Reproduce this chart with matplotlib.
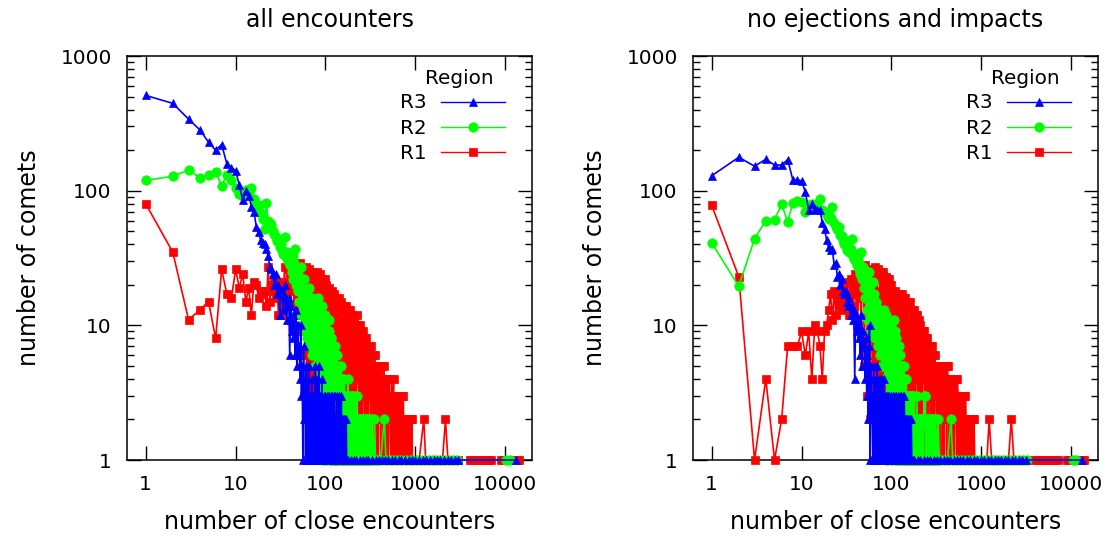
import matplotlib
matplotlib.use('Agg')
import matplotlib.pyplot as plt
from matplotlib.ticker import NullLocator, NullFormatter, LogLocator

# ---------------- data: (number of close encounters, number of comets) ----------------
left_r3 = [(1,510),(2,445),(3,340),(4,283),(5,229),(6,200),(7,220),(8,158),(9,148),(10,141),(11,110),(12,85),(13,100),(14,92),(15,76),(16,70),(17,54),(18,49),(19,43),(20,41),(21,40),(22,37),(23,33),(24,27),(25,26),(26,24),(27,20),(28,24),(29,17),(30,20),(31,12),(32,18),(33,17),(34,13),(35,20),(36,16),(37,11),(38,15),(39,16),
           (40,6),(41,14),(42,9),(43,12),(44,8),(45,11),(46,6),(47,13),(48,5),(49,10),(50,6),(51,7),(52,4),(53,10),(54,3),(55,5),(56,1),(57,7),(58,2),(59,4),(60,1),(61,5),(62,3),(63,1),(64,3),(65,5),(66,1),(67,3),(68,2),(69,1),(70,4),(71,2),(72,1),(73,3),(74,2),(75,1),(76,5),(77,3),(78,1),(79,4),(80,2),(81,1),
           (82,4),(83,1),(84,5),(85,2),(86,1),(87,3),(88,3),(89,1),(90,2),(91,4),(92,1),(93,2),(94,2),(95,1),(96,3),(97,2),(98,1),(99,3),(100,3),(101,1),(102,2),(103,3),(104,1),(105,2),(106,3),(107,1),(108,2),(109,3),(110,1),(111,2),(112,2),(113,1),(114,3),(115,2),(116,1),(117,3),(118,3),(119,1),(120,2),(121,1),(123,2),(124,3),(126,3),(127,1),(129,2),(130,1),(132,2),(133,3),(135,3),(136,1),(138,2),(139,1),(141,3),(142,2),(144,2),(145,1),(147,3),(148,1),(150,3),(152,1),(154,2),(156,1),(158,2),(160,1),(162,2),(164,1),(166,2),(168,1),(170,2),(172,1),
           (176,1),(190,1),(205,1),(220,1),(240,1),(260,1),(280,1),(300,1),(330,1),(360,1),(390,1),(420,1),(460,1),(500,1),(550,1),(600,1),(650,1),(700,1),(770,1),(840,1),(920,1),(1000,1),(1100,1),(1200,1),(1320,1),(1450,1),(1600,1),(1750,1),(1900,1),(2100,1),(2300,1),(2500,1),(2750,1),(3000,1),(13300,1)]

left_r2 = [(1,119),(2,128),(3,142),(4,125),(5,131),(6,137),(7,109),(8,131),(9,121),(10,105),(11,95),(12,91),(13,101),(14,99),(15,104),(16,86),(17,75),(18,78),(19,68),(20,62),(21,52),(22,81),(23,60),(24,58),(25,56),(26,50),(27,48),(28,45),(29,42),(30,44),(31,38),(32,40),(33,36),(34,34),(35,45),(36,32),(37,35),(38,30),(39,32),(40,28),(41,30),(42,25),(43,33),(44,22),(45,29),(46,37),(47,20),(48,26),(49,18),(50,24),(51,15),(52,21),(53,12),(54,27),(55,10),(56,19),(57,14),(58,22),(59,9),
           (60,17),(61,12),(62,8),(63,18),(64,10),(65,7),(66,19),(67,13),(68,9),(69,15),(70,6),(71,16),(72,11),(73,7),(74,14),(75,9),(76,5),(77,15),(78,10),(79,6),(80,13),(81,8),(82,4),(83,16),(84,11),(85,5),(86,14),(87,7),(88,3),(89,12),(90,9),(91,4),(92,14),(93,6),(94,1),(95,11),(96,8),(97,2),
           (98,12),(99,3),(100,5),(101,9),(102,1),(103,7),(104,11),(105,2),(106,7),(107,4),(108,2),(109,9),(110,11),(111,1),(112,4),(113,6),(114,1),(115,8),(116,8),(117,2),(118,5),(119,3),(120,1),(121,6),(122,7),(123,1),(124,3),(125,5),(126,1),(127,4),(128,7),(129,2),(130,4),(131,1),(132,5),(134,1),(135,6),(136,3),(138,2),(139,4),(141,5),(142,1),(144,3),(145,4),(147,1),(148,3),(150,5),(151,1),(153,2),(154,4),(156,4),(157,1),(159,3),(160,1),(162,4),(164,2),(166,2),(168,1),(170,3),(172,2),(174,1),(176,4),(178,3),(180,1),(182,2),(184,3),(186,1),(188,3),(190,1),(193,2),(195,3),(198,1),(200,2),(203,3),(205,1),(208,2),(210,1),(213,3),(216,1),(219,2),(222,3),(225,1),(228,2),(231,1),(234,2),(237,1),(240,2),(244,1),(247,2),(251,1),(254,2),(258,1),(261,2),(265,1),(268,2),(272,1),(276,2),(280,1),(284,2),(288,1),(292,2),(296,1),(300,2),(305,1),(310,2),(318,1),(325,2),(333,1),(340,1),(350,2),(360,1),(380,1),(410,1),(452,2),(470,1),
           (520,1),(570,1),(630,1),(700,1),(780,1),(860,1),(950,1),(1050,1),(1150,1),(1270,1),(1400,1),(1550,1),(1700,1),(1900,1),(2100,1),(2350,1),(2600,1),(2900,1),(10300,1),(11200,1)]

left_r1 = [(1,80),(2,35),(3,11),(4,13),(5,15),(6,8),(7,26),(8,17),(9,16),(10,26),(11,19),(12,24),(13,15),(14,19),(15,12),(16,21),(17,20),(18,16),(19,18),(20,17),(21,18),(22,14),(23,27),(24,15),(25,20),(26,18),(27,22),(28,16),(29,19),(30,12),(31,17),(32,12),(33,21),(34,16),(35,27),(36,14),(37,20),(38,26),(39,18),(40,24),(41,11),(42,22),(43,19),(44,25),(45,14),(46,21),(47,28),(48,17),(49,23),(50,12),(51,26),(52,29),(53,18),(54,22),(55,9),(56,25),(57,15),(58,21),(59,6),
           (60,27),(61,14),(62,1),(63,23),(64,19),(65,3),(66,26),(67,11),(68,1),(69,24),(70,17),(71,2),(72,25),(73,9),(74,1),
           (75,22),(76,8),(77,15),(78,1),(79,24),(80,12),(81,25),(82,3),(83,18),(84,1),(85,23),(86,10),(87,24),(88,2),(89,16),(90,1),(91,22),(92,13),(93,21),(94,1),(95,9),(96,20),(97,2),(98,17),(99,22),(100,5),
           (102,20),(104,1),(106,14),(108,19),(110,3),(112,17),(114,8),(116,1),(118,18),(120,12),(122,2),(124,17),(126,6),(128,1),(130,16),(132,11),(134,1),(136,15),(138,4),(140,16),(142,1),(144,13),(146,9),(148,2),(150,15),
           (153,7),(156,1),(159,14),(162,11),(165,2),(168,14),(171,5),(174,1),(177,13),(180,9),(183,1),(186,13),(189,3),(192,12),(195,1),(198,8),
           (202,12),(206,2),(210,11),(214,6),(218,1),(222,12),(226,4),(230,10),(234,1),(238,7),(242,10),(246,2),(250,9),(254,5),(258,1),(262,9),(266,3),(270,8),(274,1),(278,6),(282,8),(286,2),(290,7),(294,4),(298,1),
           (303,7),(308,3),(313,6),(318,1),(323,7),(328,4),(333,2),(338,6),(343,1),(348,5),(353,6),(358,2),(363,5),(368,1),(373,4),(378,5),(383,1),(388,5),(393,3),(398,2),
           (404,5),(410,1),(416,4),(422,5),(428,2),(434,4),(440,1),(446,5),(452,3),(458,1),(464,4),(470,2),(476,4),(482,1),(488,3),(494,4),(500,1),
           (508,4),(516,2),(524,3),(532,1),(540,4),(548,2),(556,1),(564,3),(572,4),(580,1),(588,3),(596,2),(604,1),(612,3),(620,3),(628,1),(636,2),(644,3),
           (654,1),(664,3),(674,2),(684,1),(694,3),(704,3),(714,1),(724,2),(734,3),(744,1),(754,2),(764,2),(774,1),(784,2),(794,1),
           (806,2),(818,1),(830,2),(842,2),(854,1),(866,2),(878,1),(890,2),(902,1),(914,2),(926,1),(940,1),
           (1000,1),(1100,1),(1240,2),(1300,1),(1500,1),(1750,1),(2000,1),(2160,2),(2300,1),(2600,1),(3000,1),(4000,1),(4200,1),(4450,1),(4700,1),(4950,1),(5250,1),(5550,1),(5850,1),(6200,1),(6600,1),(7000,1),(9000,1),(9500,1),(10000,1),(10600,1),(11200,1),(11900,1),(12600,1),(13400,1),(14200,1)]

right_r3 = [(1,129),(2,177),(3,152),(4,171),(5,155),(6,155),(7,170),(8,120),(9,120),(10,118),(11,98),(12,72),(13,80),(14,73),(15,72),(16,72),(17,58),(18,52),(19,43),(20,38),(21,36),(22,37),(23,28),(24,29),(25,23),(26,24),(27,20),(28,22),(29,18),(30,17),(31,18),(32,15),(33,14),(34,16),(35,12),(36,14),(37,11),(38,13),(39,4),(40,12),(41,9),(42,11),(43,8),(44,10),(45,6),(46,12),(47,5),(48,9),(49,7),(50,7),(51,4),(52,8),(53,3),(54,6),(55,2),
            (56,7),(57,10),(58,1),(59,5),(60,2),(61,3),(62,1),(63,4),(64,5),(65,1),(66,3),(67,4),(68,1),(69,5),(70,2),(71,1),(72,4),(73,2),(74,3),(75,1),(76,4),(77,2),(78,1),(79,4),(80,3),(81,1),
            (82,4),(83,1),(84,2),(85,3),(86,1),(87,3),(88,3),(89,1),(90,2),(91,3),(92,1),(93,2),(94,3),(95,1),(96,2),(97,1),(98,2),(99,3),(100,3),(101,1),(102,2),(103,1),(104,2),(105,3),(106,3),(107,1),(108,2),(109,1),(110,2),(111,3),(113,3),(114,1),(116,2),(117,1),(119,3),(120,2),(122,2),(123,1),(125,3),(126,1),(128,3),(129,2),(131,2),(132,1),(134,3),(136,1),(138,3),(140,2),(142,1),(144,2),(146,2),(148,1),(150,2),(152,1),(154,2),(156,1),(158,2),(160,1),(162,2),(164,1),(166,2),(168,1),
            (172,1),(180,1),(195,1),(210,1),(230,1),(250,1),(270,1),(295,1),(320,1),(350,1),(380,1),(415,1),(450,1),(490,1),(530,1),(580,1),(630,1),(690,1),(750,1),(820,1),(900,1),(980,1),(1070,1),(1170,1),(1280,1),(1400,1),(1530,1),(1670,1),(1820,1),(1990,1),(2170,1),(2370,1),(2600,1),(2850,1),(3100,1),(13300,1)]

right_r2 = [(1,41),(2,19.5),(3,44),(4,60),(5,61),(6,79),(7,59),(8,81),(9,84),(10,83),(11,69),(12,78),(13,80),(14,76),(15,80),(16,87),(17,72),(18,70),(19,66),(20,62),(21,63),(22,75),(23,58),(24,55),(25,52),(26,54),(27,47),(28,46),(29,43),(30,40),(31,42),(32,36),(33,39),(34,35),(35,37),(36,44),(37,33),(38,31),(39,34),(40,30),(41,28),(42,32),(43,26),(44,29),(45,24),(46,35),(47,22),(48,27),(49,19),(50,25),(51,16),(52,22),(53,13),(54,24),(55,11),(56,25),(57,15),(58,20),(59,9),
            (60,17),(61,11),(62,12),(63,21),(64,17),(65,9),(66,8),(67,15),(68,14),(69,10),(70,11),(71,7),(72,13),(73,9),(74,6),(75,12),(76,8),(77,10),(78,9),(79,5),(80,11),(81,7),(82,5),(83,13),(84,9),(85,4),(86,12),(87,6),(88,10),(89,3),(90,1),(91,9),(92,11),(93,5),(94,3),(95,10),(96,9),(97,2),
            (98,7),(99,2),(100,10),(101,6),(102,1),(103,8),(104,8),(105,3),(106,11),(107,5),(108,3),(109,9),(110,7),(111,1),(112,8),(113,5),(114,1),(115,7),(116,6),(117,2),(118,7),(119,4),(120,2),(121,7),(122,5),(123,1),(124,6),(125,3),(126,1),(127,5),(128,5),(129,2),(130,4),(131,4),(133,1),(134,5),(136,3),(137,5),(138,1),(140,3),(141,4),(143,1),(144,3),(146,4),(147,1),(149,2),(150,3),(152,1),(154,3),(156,3),(158,1),(160,2),(162,3),(164,3),(166,1),(168,2),(170,3),(172,3),(174,1),(176,2),(178,3),(180,1),(182,2),(185,2),(188,1),(190,3),(193,1),(195,2),(198,1),(200,2),(203,2),(206,1),(209,2),(212,1),(215,2),(218,2),(221,1),(224,2),(227,1),(230,2),(234,3),(238,3),(242,1),(246,2),(250,1),(255,2),(260,1),(265,2),(270,1),(275,2),(280,1),(285,2),(290,1),(295,2),(302,1),(310,2),(320,1),(330,2),(340,1),(350,1),(380,1),(420,1),(459,2),(480,1),
            (530,1),(590,1),(650,1),(720,1),(800,1),(880,1),(970,1),(1070,1),(1180,1),(1300,1),(1430,1),(1580,1),(1750,1),(1930,1),(2130,1),(2350,1),(2600,1),(2900,1),(3200,1),(10400,1),(11200,1)]

right_r1 = [(1,78),(2,23),(3,1),(4,4),(5,1),(6,2),(7,7),(8,7),(9,7),(10,9),(11,6),(12,9),(13,4),(14,10),(15,9),(16,7),(17,4),(18,9),(19,10),(20,13),(21,17),(22,11),(23,18),(24,12),(25,16),(26,14),(27,18),(28,13),(29,15),(30,19),(31,14),(32,21),(33,16),(34,12),(35,22),(36,17),(37,20),(38,14),(39,24),(40,18),(41,21),(42,10),(43,25),(44,16),(45,23),(46,8),(47,27),(48,19),(49,22),(50,5),(51,28),(52,17),(53,24),(54,3),(55,26),(56,20),(57,14),(58,2),(59,25),
            (60,21),(61,13),(62,1),(63,24),(64,15),(65,4),(66,27),(67,10),(68,1),(69,22),(70,26),(71,2),(72,18),(73,12),(74,1),
            (75,24),(76,6),(77,16),(78,1),(79,25),(80,11),(81,25),(82,2),(83,19),(84,1),(85,23),(86,9),(87,23),(88,2),(89,17),(90,1),(91,22),(92,14),(93,22),(94,1),(95,10),(96,20),(97,2),(98,15),(99,20),(100,4),
            (102,18),(104,1),(106,13),(108,18),(110,2),(112,17),(114,9),(116,1),(118,17),(120,12),(122,2),(124,17),(126,6),(128,1),(130,17),(132,10),(134,1),(136,16),(138,5),(140,16),(142,1),(144,14),(146,9),(148,2),(150,15),
            (153,8),(156,1),(159,15),(162,10),(165,2),(168,13),(171,6),(174,1),(177,13),(180,9),(183,1),(186,12),(189,4),(192,12),(195,1),(198,8),
            (202,11),(206,2),(210,10),(214,6),(218,1),(222,9),(226,4),(230,9),(234,1),(238,7),(242,8),(246,2),(250,8),(254,5),(258,1),(262,7),(266,3),(270,7),(274,1),(278,6),(282,7),(286,2),(290,6),(294,4),(298,1),
            (303,6),(308,3),(313,5),(318,1),(323,5),(328,4),(333,2),(338,5),(343,1),(348,5),(353,4),(358,2),(363,5),(368,1),(373,5),(378,4),(383,1),(388,5),(393,3),(398,2),
            (404,5),(410,1),(416,5),(422,5),(428,2),(434,4),(440,1),(446,4),(452,3),(458,1),(464,4),(470,2),(476,4),(482,1),(488,3),(494,4),(500,1),
            (508,4),(516,2),(524,4),(532,1),(540,4),(548,3),(556,1),(564,3),(572,3),(580,1),(588,3),(596,2),(604,1),(612,3),(620,3),(628,1),(636,2),(644,3),
            (654,1),(664,3),(674,2),(684,1),(694,2),(704,2),(714,1),(724,2),(734,2),(744,1),(754,2),(764,2),(774,1),(784,2),(794,1),
            (806,2),(818,1),(830,2),(842,1),(854,1),(866,1),(880,1),(920,1),(960,1),
            (1000,1),(1150,1),(1220,2),(1300,1),(1500,1),(1750,1),(2000,1),(2150,2),(2300,1),(2600,1),(3000,1),(3500,1),(4100,1),(4350,1),(4600,1),(4850,1),(5150,1),(5450,1),(5800,1),(6200,1),(6650,1),(7100,1),(8900,1),(9400,1),(9900,1),(10400,1),(10900,1),(11500,1),(12100,1),(12700,1),(13300,1),(14000,1)]

x_ticks = [1, 10, 100, 1000, 10000]
x_tick_labels = ['1', '10', '100', '1000', '10000']
y_ticks = [1, 10, 100, 1000]
y_tick_labels = ['1', '10', '100', '1000']
titles = ['all encounters', 'no ejections and impacts']
series_labels = ['R3', 'R2', 'R1']
legend_title = 'Region'

plt.rcParams['font.family'] = ['DejaVu Sans']

W, H = 1110, 537
fig = plt.figure(figsize=(W / 100, H / 100), dpi=100)
axL = fig.add_axes([127 / W, 1 - 460 / H, 405 / W, 404 / H])
axR = fig.add_axes([693 / W, 1 - 460 / H, 405 / W, 404 / H])


def draw(ax, title, r1, r2, r3):
    styles = [
        (r1, '#ff0000', 's', 5.6, 3),
        (r2, '#00ff00', 'o', 6.8, 4),
        (r3, '#0000ff', '^', 6.2, 5),
    ]
    handles = []
    for data, color, marker, ms, z in styles:
        xs = [p[0] for p in data]
        ys = [p[1] for p in data]
        h, = ax.plot(xs, ys, color=color, marker=marker, ms=ms, lw=1.2,
                     mec=color, mfc=color, mew=0.5, zorder=z, clip_on=False)
        handles.append(h)
    ax.set_xscale('log')
    ax.set_yscale('log')
    ax.set_xlim(0.62, 19800)
    ax.set_ylim(1, 1000)
    ax.set_xticks(x_ticks)
    ax.set_xticklabels(x_tick_labels)
    ax.xaxis.set_minor_locator(NullLocator())
    ax.set_yticks(y_ticks)
    ax.set_yticklabels(y_tick_labels)
    ax.yaxis.set_minor_locator(LogLocator(base=10, subs=[2, 3, 4, 5, 6, 7, 8, 9]))
    ax.yaxis.set_minor_formatter(NullFormatter())
    ax.tick_params(which='both', direction='in', top=True, right=True,
                   width=1.0, labelsize=14.4, color='black')
    ax.tick_params(which='major', length=10)
    ax.tick_params(which='minor', length=5)
    ax.tick_params(axis='x', which='major', pad=11)
    ax.tick_params(axis='y', which='major', pad=11)
    for s in ax.spines.values():
        s.set_linewidth(1.1)
    ax.set_title(title, fontsize=17, pad=21)
    ax.set_xlabel('number of close encounters', fontsize=17, labelpad=11)
    ax.set_ylabel('number of comets', fontsize=17, labelpad=14)
    leg = ax.legend([handles[2], handles[1], handles[0]], series_labels,
                    loc='upper right', bbox_to_anchor=((505 - 127) / 405, (460 - 93.5) / 404),
                    frameon=False, markerfirst=False, handlelength=3.2,
                    handletextpad=0.72, labelspacing=0.31, borderpad=0,
                    borderaxespad=0, numpoints=1, fontsize=14.4)
    for line in leg.get_lines():
        line.set_linewidth(1.0)
    leg.set_zorder(10)
    ax.text((459 - 127) / 405, (460 - 78.6) / 404, legend_title, transform=ax.transAxes,
            ha='center', va='center', fontsize=14.4, zorder=10)


draw(axL, titles[0], left_r1, left_r2, left_r3)
draw(axR, titles[1], right_r1, right_r2, right_r3)

fig.savefig('out.png', dpi=100)
